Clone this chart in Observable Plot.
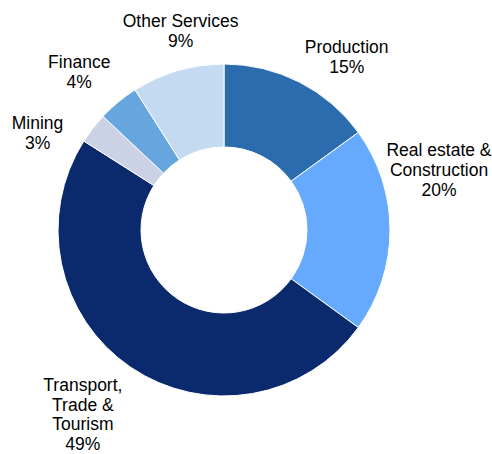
<!DOCTYPE html>
<html>
<head>
<meta charset="utf-8">
<script src="https://cdn.jsdelivr.net/npm/d3@7"></script>
<script src="https://cdn.jsdelivr.net/npm/@observablehq/plot@0.6"></script>
<style>
  html, body { margin: 0; padding: 0; background: #fff; }
  #chart { width: 492px; height: 454px; }
</style>
</head>
<body>
<div id="chart"></div>
<script>
// ---- data ----
const sectors = ["Production", "Real estate & Construction", "Transport, Trade & Tourism", "Mining", "Finance", "Other Services"];
const labelText = ["Production", "Real estate &\nConstruction", "Transport,\nTrade &\nTourism", "Mining", "Finance", "Other Services"];
const shares = [15, 20, 49, 3, 4, 9];
const colors = ["#2a6cae", "#66aaff", "#0b2a6e", "#cbd2e6", "#66a5dd", "#c3daf1"];

// ---- layout (label nudges in px, relative to mid-angle anchor) ----
const labelNudgeX = [28, 7, -25, -23, -13, 14];
const labelNudgeY = [11, -61, 12, 29, 1, -1];

const W = 492, H = 454, CX = 224, CY = 230, R = 166, INNER = 0.5, LABEL_R = 1.25;

const pie = d3.pie().sort(null).value(d => d.value)(sectors.map((s, i) => ({sector: s, value: shares[i], i})));

const labels = pie.map(p => {
  const a = (p.startAngle + p.endAngle) / 2;
  return {
    x: LABEL_R * Math.sin(a) + labelNudgeX[p.data.i] / R,
    y: LABEL_R * Math.cos(a) - labelNudgeY[p.data.i] / R,
    text: labelText[p.data.i] + "\n" + shares[p.data.i] + "%"
  };
});

function donut(index, scales) {
  const {x, y} = scales;
  const cx = x(0), cy = y(0), r = x(1) - x(0);
  const arc = d3.arc().innerRadius(r * INNER).outerRadius(r);
  const g = d3.create("svg:g").attr("transform", `translate(${cx},${cy})`);
  g.selectAll("path").data(pie).join("path")
    .attr("d", arc)
    .attr("fill", d => colors[d.data.i])
    .attr("stroke", "#fff")
    .attr("stroke-width", 1)
    .attr("stroke-linejoin", "round");
  return g.node();
}

const chart = Plot.plot({
  width: W,
  height: H,
  margin: 0,
  x: {domain: [-CX / R, (W - CX) / R], axis: null},
  y: {domain: [-(H - CY) / R, CY / R], axis: null},
  style: {background: "#fff"},
  marks: [
    donut,
    Plot.text(labels, {
      x: "x", y: "y", text: "text",
      fontSize: 17.5, lineHeight: 1.14,
      fontFamily: "Liberation Sans, Arial, sans-serif",
      fill: "#000", textAnchor: "middle"
    })
  ]
});
document.getElementById("chart").append(chart);
</script>
</body>
</html>
